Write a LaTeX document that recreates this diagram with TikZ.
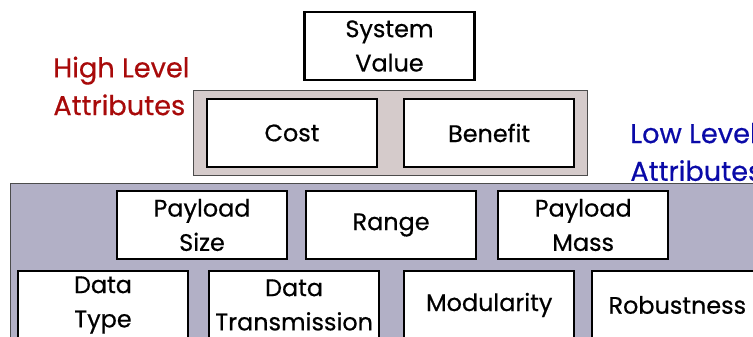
\documentclass[tikz,border=0pt]{standalone}
\usepackage{fontspec}
\setmainfont{Poppins}[FakeBold=0.5]
\usetikzlibrary{positioning,fit,backgrounds}
\definecolor{hired}{RGB}{168,10,10}
\definecolor{loblue}{RGB}{10,10,168}
\definecolor{hifill}{RGB}{213,203,203}
\definecolor{lofill}{RGB}{178,176,198}
\begin{document}
\begin{tikzpicture}[x=0.2mm, y=-0.2mm, font=\fontsize{13.6}{19.5}\selectfont,
  attr/.style={draw,line width=1.2pt,fill=white,align=center,minimum height=13.6mm,minimum width=34mm,inner sep=1pt},
  grp/.style={draw=black!70,line width=0.6pt},
  lbl/.style={align=left,anchor=west,inner sep=0pt,font=\fontsize{15.5}{21.5}\selectfont}]
  \useasboundingbox (0,0) rectangle (753,337);
  \clip (0,0) rectangle (753,337);
  \node[attr] (sysval) at (389.5,46) {System\\Value};
  \node[attr] (cost) at (292,133) {Cost};
  \node[attr,right=5mm of cost] (benefit) {Benefit};
  \node[attr] (psize) at (202,225) {Payload\\Size};
  \node[attr,right=3.4mm of psize] (range) {Range};
  \node[attr,right=4mm of range] (pmass) {Payload\\Mass};
  \node[attr] (dtype) at (103,305) {Data\\Type};
  \node[attr,right=3.8mm of dtype] (dtrans) {Data\\Transmission};
  \node[attr,right=4.6mm of dtrans] (modul) {Modularity};
  \node[attr,right=3.2mm of modul] (robust) {Robustness};
  \begin{scope}[on background layer]
    \node[grp,fill=hifill,inner xsep=2.5mm,inner ysep=1.4mm,fit=(cost)(benefit)] (high) {};
    \node[grp,fill=lofill,inner sep=1.2mm,fit=(psize)(dtype)(robust)] (low) {};
  \end{scope}
  \node[lbl,text=hired] (hilabel) at (53,86) {High Level\\Attributes};
  \node[lbl,text=loblue] (lolabel) at (630,152) {Low Level\\Attributes};
\end{tikzpicture}
\end{document}
